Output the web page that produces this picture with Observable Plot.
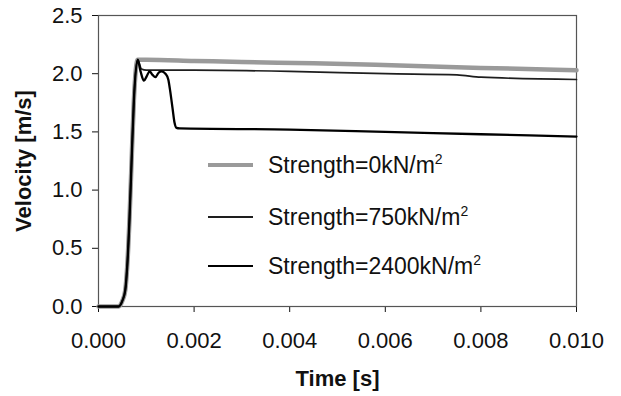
<!DOCTYPE html>
<html>
<head>
<meta charset="utf-8">
<script src="https://cdn.jsdelivr.net/npm/d3@7"></script>
<script src="https://cdn.jsdelivr.net/npm/@observablehq/plot@0.6"></script>
<style>
  body { margin: 0; background: #fff; font-family: "Liberation Sans", Arial, sans-serif; }
  #wrap { position: relative; width: 621px; height: 396px; }
  .legend { position: absolute; left: 0; top: 0; width: 621px; height: 396px; pointer-events: none; }
  .item { position: absolute; left: 208px; height: 30px; display: flex; align-items: center; font-size: 23px; color: #111; white-space: nowrap; }
  .sw { width: 45px; margin-right: 15px; }
</style>
</head>
<body>
<div id="wrap"></div>
<script>
const seriesNames = ["Strength=0kN/m²", "Strength=750kN/m²", "Strength=2400kN/m²"];

const rampT = [0, 0.0003, 0.00042, 0.0005, 0.00056, 0.0006, 0.00065, 0.0007, 0.00074, 0.00082];
const rampV = [0, 0, 0.0, 0.05, 0.14, 0.34, 0.77, 1.34, 1.77, 2.12];

const t0 = [0.001, 0.002, 0.003, 0.0045, 0.0063, 0.008, 0.010];
const v0 = [2.12, 2.11, 2.10, 2.09, 2.07, 2.05, 2.03];

const t750 = [0.0009, 0.001, 0.002, 0.004, 0.006, 0.0075, 0.008, 0.010];
const v750 = [2.04, 2.03, 2.03, 2.02, 2.00, 1.99, 1.97, 1.95];

const t2400 = [0.00088, 0.00095, 0.00101, 0.00107, 0.00113, 0.00119, 0.00126, 0.00132, 0.0014, 0.00146, 0.0015, 0.00155, 0.00159, 0.00163, 0.0017, 0.004, 0.006, 0.008, 0.010];
const v2400 = [2.02, 1.94, 1.98, 2.02, 1.99, 1.97, 2.01, 2.02, 2.00, 1.95, 1.85, 1.70, 1.58, 1.535, 1.53, 1.52, 1.50, 1.48, 1.46];

const xTicks = [0, 0.002, 0.004, 0.006, 0.008, 0.010];
const yTicks = [0, 0.5, 1.0, 1.5, 2.0, 2.5];

function build(ts, vs) {
  const a = rampT.map((t, i) => ({t, v: rampV[i]}));
  return a.concat(ts.map((t, i) => ({t, v: vs[i]})));
}
const d0 = build(t0, v0);
const d750 = build(t750, v750);
const d2400 = build(t2400, v2400);

const styles = [
  {stroke: "#9a9a9a", width: 4.5},
  {stroke: "#1e1e1e", width: 1.7},
  {stroke: "#000", width: 2.3}
];

const chart = Plot.plot({
  width: 621,
  height: 396,
  marginLeft: 98,
  marginRight: 45,
  marginTop: 15,
  marginBottom: 90,
  style: {fontFamily: "Liberation Sans, Arial, sans-serif", fontSize: "22px", color: "#111"},
  x: {domain: [0, 0.010], ticks: xTicks, tickFormat: d3.format(".3f"), tickSize: 6, tickPadding: 20,
      label: "Time [s]", labelAnchor: "center", labelOffset: 79, labelArrow: "none"},
  y: {domain: [0, 2.5], ticks: yTicks, tickFormat: d3.format(".1f"), tickSize: 6, tickPadding: 10,
      label: "Velocity [m/s]", labelAnchor: "center", labelOffset: 83, labelArrow: "none"},
  marks: [
    Plot.frame({stroke: "#555", strokeWidth: 1.2}),
    Plot.line(d0, {x: "t", y: "v", stroke: styles[0].stroke, strokeWidth: styles[0].width, curve: "monotone-x"}),
    Plot.line(d750, {x: "t", y: "v", stroke: styles[1].stroke, strokeWidth: styles[1].width, curve: "monotone-x"}),
    Plot.line(d2400, {x: "t", y: "v", stroke: styles[2].stroke, strokeWidth: styles[2].width, curve: "monotone-x"})
  ]
});
chart.querySelectorAll("g[aria-label='x-axis label'], g[aria-label='y-axis label']").forEach(e => { e.style.fontWeight = "bold"; e.style.fontSize = "22px"; });
document.getElementById("wrap").appendChild(chart);

const leg = document.createElement("div");
leg.className = "legend";
const tops = [165, 217, 266];
seriesNames.forEach((name, i) => {
  const it = document.createElement("div");
  it.className = "item";
  it.style.top = (tops[i] - 15) + "px";
  const sw = document.createElement("div");
  sw.className = "sw";
  sw.style.height = styles[i].width + "px";
  sw.style.background = styles[i].stroke;
  it.appendChild(sw);
  const tx = document.createElement("span");
  const base = name.replace("²", "");
  tx.innerHTML = base + "<sup style='font-size:14px;vertical-align:9px'>2</sup>";
  it.appendChild(tx);
  leg.appendChild(it);
});
document.getElementById("wrap").appendChild(leg);
</script>
</body>
</html>
